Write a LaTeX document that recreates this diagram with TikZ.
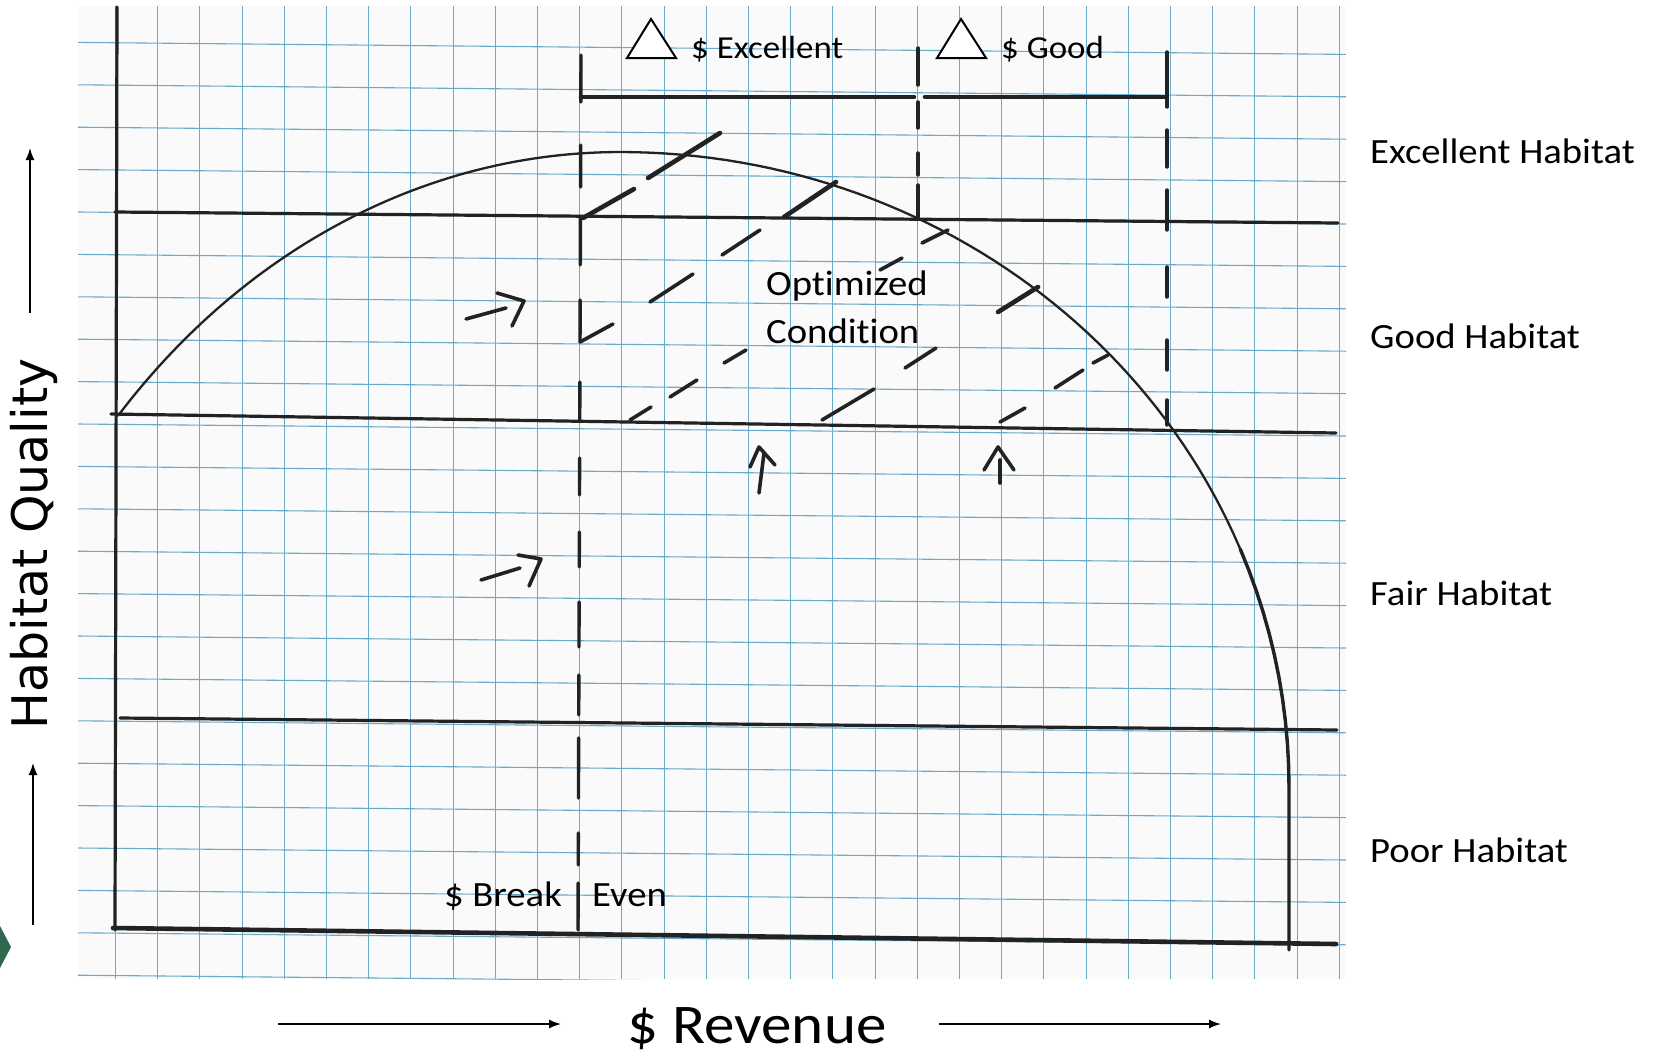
\documentclass[tikz,border=0pt]{standalone}
\usepackage{fontspec}
\setmainfont{Carlito}[FakeStretch=1.09, Ligatures=NoCommon]
\newfontfamily\yfont{DejaVu Sans}
\usetikzlibrary{arrows.meta}
\definecolor{gridblue}{RGB}{108,170,202}
\definecolor{ink}{RGB}{34,34,34}
\definecolor{paperc}{RGB}{250,250,250}
\definecolor{tabgreen}{RGB}{46,104,78}
\begin{document}
\begin{tikzpicture}[x=1pt,y=-1pt,
  gridline/.style={draw=gridblue, line width=1.1pt},
  inkline/.style={draw=ink, line width=3.2pt, line cap=round},
  dashseg/.style={draw=ink, line width=3.4pt, line cap=round},
  pen/.style={draw=ink, line width=3.6pt, line cap=round, line join=round},
  thickpen/.style={pen, line width=4.6pt},
  lab/.style={font=\fontsize{35.5}{40}\selectfont, inner sep=0pt, text=black},
  labsmall/.style={font=\fontsize{32}{36}\selectfont, inner sep=0pt, text=black},
  axisarrow/.style={draw=black, line width=1.5pt, -{Latex[length=12pt,width=9pt]}},
  tri/.style={draw=black, fill=white, line width=2pt, line join=miter}]
\useasboundingbox (0,0) rectangle (1661,1055);
% paper
\fill[paperc] (78,6) rectangle (1346,979);
\begin{scope}
  \clip (78,6) rectangle (1346,979);
  \foreach \k in {0,...,29} \draw[gridline] ({115.5+42.2*\k},6) -- ({115.5+42.2*\k},979);
  \foreach \k in {-4,...,18} \draw[gridline] (78,{212+42.4*\k}) -- (1346,{224+42.4*\k});
\end{scope}
% axes and habitat boundaries
\draw[inkline] (117,7) -- (115,930);
\draw[inkline] (115,212) -- (1338,223);
\draw[inkline] (111,414) -- (1336,433);
\draw[inkline] (120,718) -- (1337,730);
\draw[inkline, line width=4.6pt] (113,928) -- (1336,944);
% curve: left and right quarter-ellipses
\draw[draw=ink, line width=2.3pt, line cap=round, line join=round]
  plot[domain=138.6:90, samples=60, variable=\t] ({620+669*cos(\t)},{930-778*sin(\t)})
  -- plot[domain=90:0, samples=70, variable=\t] ({620+669*cos(\t)},{787-635*sin(\t)});
\draw[draw=ink, line width=3.4pt, line cap=round]
  plot[domain=22:0, samples=12, variable=\t] ({620+669*cos(\t)},{787-635*sin(\t)})
  -- (1289,950);
% bracket
\draw[inkline, line width=4.6pt] (581,97) -- (914,97);
\draw[inkline, line width=4.6pt] (925,97) -- (1166,97);
% dashed verticals
\foreach \a/\b in {55/102,145/187,218/265,300/342,382/420,458/495,532/567,602/647,675/715,738/798,833/865,883/930}
  \draw[dashseg] ({581-3*(\a-55)/875},\a) -- ({581-3*(\b-55)/875},\b);
\foreach \a/\b in {48/85,102/128,153/175,185/217}
  \draw[dashseg] (918,\a) -- (918,\b);
\foreach \a/\b in {52/107,130/167,190/230,267/297,340/370,400/425}
  \draw[dashseg] (1167,\a) -- (1167,\b);
% hatching
\draw[thickpen] (648,178) -- (720,133);
\draw[thickpen] (583,218) -- (634,189);
\draw[thickpen] (784,217) -- (836,182);
\draw[pen] (722,255) -- (760,230);
\draw[pen] (922,243) -- (948,230);
\draw[pen] (880,270) -- (902,258);
\draw[pen] (650,302) -- (693,274);
\draw[thickpen] (998,312) -- (1038,287);
\draw[pen] (580,342) -- (613,324);
\draw[pen] (724,363) -- (746,350);
\draw[pen] (905,368) -- (936,348);
\draw[pen] (1093,363) -- (1108,355);
\draw[pen] (1055,388) -- (1083,370);
\draw[pen] (670,397) -- (697,380);
\draw[pen] (630,420) -- (651,407);
\draw[pen] (822,420) -- (874,389);
\draw[pen] (1000,422) -- (1025,408);
% hand-drawn arrows
\draw[pen] (466,319) -- (506,308);
\draw[pen] (497,293) -- (524,301) -- (512,326);
\draw[pen] (481,580) -- (520,568);
\draw[pen] (518,555) -- (541,559) -- (529,586);
\draw[pen] (759,493) -- (764,453);
\draw[pen] (750,467) -- (759,447) -- (775,465);
\draw[pen] (1000,483) -- (1000,460);
\draw[pen] (984,470) -- (998,447) -- (1014,470);
% triangles and top labels
\draw[tri] (627,58) -- (651,19) -- (676,58) -- cycle;
\draw[tri] (937,58) -- (961,19) -- (986,58) -- cycle;
\node[labsmall, anchor=base west] (dexc) at (691,58) {\$ Excellent};
\node[labsmall, anchor=base west] (dgood) at (1001,58) {\$ Good};
% region labels
\node[lab, anchor=base west] (opt1) at (766,295) {Optimized};
\node[lab, anchor=base west] (opt2) at (766,343) {Condition};
\node[lab, anchor=base east] (brk) at (562,906) {\$ Break};
\node[lab, anchor=base west] (even) at (592,906) {Even};
\node[lab, anchor=base west] (exc) at (1370,163) {Excellent Habitat};
\node[lab, anchor=base west] (good) at (1370,348) {Good Habitat};
\node[lab, anchor=base west] (fair) at (1370,605) {Fair Habitat};
\node[lab, anchor=base west] (poor) at (1370,862) {Poor Habitat};
% axis titles
\node[font=\yfont\fontsize{49}{55}\selectfont, anchor=base, rotate=90, inner sep=0pt] (hq) at (47,544) {Habitat Quality};
\node[font=\fontsize{56}{60}\selectfont, anchor=base, inner sep=0pt] (rev) at (757,1043) {\$ Revenue};
% axis arrows
\coordinate (ya1) at (30,313); \coordinate (yb1) at (30,148);
\coordinate (ya2) at (33,925); \coordinate (yb2) at (33,763);
\coordinate (xa1) at (278,1024); \coordinate (xb1) at (561,1024);
\coordinate (xa2) at (939,1024); \coordinate (xb2) at (1221,1024);
\draw[axisarrow] (ya1) -- (yb1);
\draw[axisarrow] (ya2) -- (yb2);
\draw[axisarrow] (xa1) -- (xb1);
\draw[axisarrow] (xa2) -- (xb2);
% green tab at left edge
\fill[tabgreen] (0,926) -- (11,947) -- (0,968) -- cycle;
\end{tikzpicture}
\end{document}
